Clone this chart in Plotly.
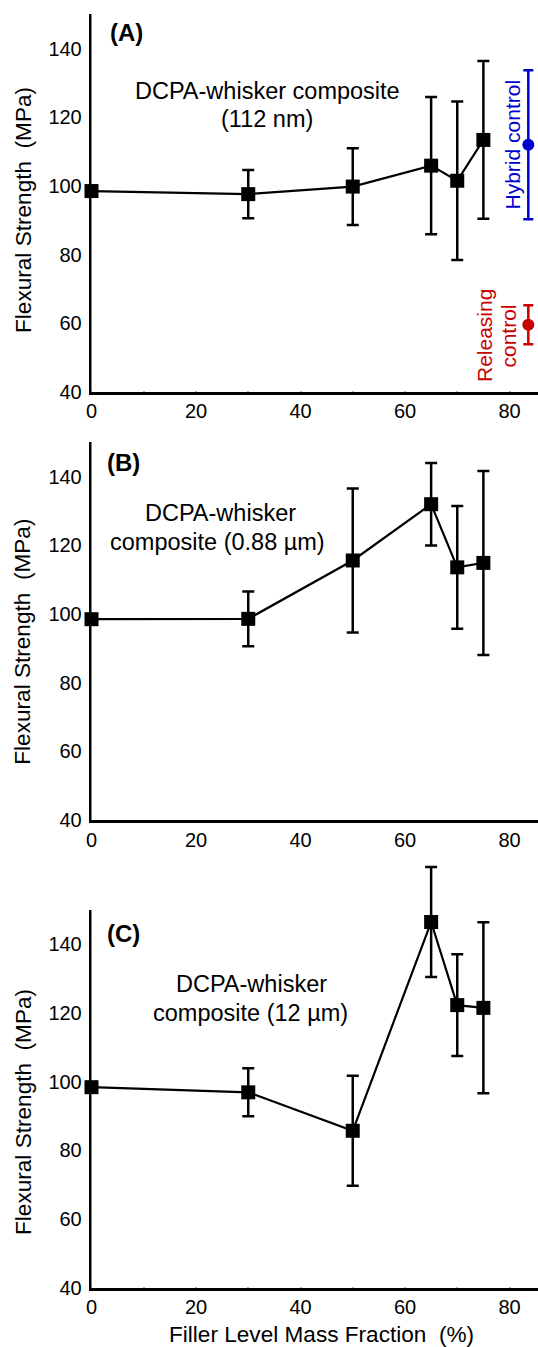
import plotly.graph_objects as go

# ---------------- data ----------------
filler = [0, 30, 50, 65, 70, 75]

strength_a = [98.5, 97.6, 99.8, 105.9, 101.5, 113.4]
err_a = [0, 7.0, 11.2, 20.0, 23.1, 23.0]

strength_b = [98.5, 98.6, 115.6, 132.0, 113.6, 114.9]
err_b = [0, 8.0, 21.0, 12.0, 17.9, 26.8]

strength_c = [98.4, 96.9, 85.7, 146.5, 122.3, 121.5]
err_c = [0, 7.0, 16.0, 16.0, 14.8, 24.9]

control_x = [83.6]
hybrid_y = [112.0]
hybrid_err = [21.7]
releasing_y = [59.5]
releasing_err = [5.7]

y_ticks = [40, 60, 80, 100, 120, 140]
x_ticks = [0, 20, 40, 60, 80]

W, H = 538, 1347
FONT = "Liberation Sans, Arial, Helvetica, sans-serif"
BLUE = "#0000cc"
RED = "#c80000"


def px(x):
    return x / W


def py(y):
    return 1 - y / H


X0 = 91.5
XMAX = (W - X0) / 5.225
YMIN, YMAX = 40, 150

panels = [  # (top px, bottom px, extra clip room above in px)
    (14.4, 391.7, 10),
    (442.4, 820.0, 10),
    (910.0, 1287.7, 60),
]

fig = go.Figure()

layout = dict(
    width=W, height=H,
    margin=dict(l=0, r=0, t=0, b=0),
    paper_bgcolor="white", plot_bgcolor="white",
    font=dict(family=FONT, color="black"),
    showlegend=False,
)

common_tick = dict(ticks="inside", ticklen=5, tickwidth=2, tickcolor="black",
                   showgrid=False, zeroline=False, showline=True,
                   linecolor="black", linewidth=2.5,
                   tickfont=dict(size=20, color="black", family=FONT),
                   automargin=False)

series = [(strength_a, err_a), (strength_b, err_b), (strength_c, err_c)]
for i, ((top, bot, ext), (ys, es)) in enumerate(zip(panels, series)):
    n = "" if i == 0 else str(i + 1)
    xref, yref, yref_data = "x" + n, "y" + n, "y" + str(i + 4)

    layout["xaxis" + n] = dict(
        domain=[px(X0), 1], range=[0, XMAX], anchor=yref,
        tickmode="array", tickvals=x_ticks,
        minor=dict(dtick=10, tick0=0, ticks="inside", ticklen=5, tickwidth=2,
                   tickcolor="black", showgrid=False),
        **common_tick)
    layout["yaxis" + n] = dict(
        domain=[py(bot), py(top)], range=[YMIN, YMAX], anchor=xref,
        tickmode="array", tickvals=y_ticks, ticklabelstandoff=3,
        minor=dict(dtick=10, tick0=40, ticks="inside", ticklen=5, tickwidth=2,
                   tickcolor="black", showgrid=False),
        **common_tick)
    # invisible data axis with identical scale but a taller clip region
    scale = (bot - top) / (YMAX - YMIN)
    layout["yaxis" + str(i + 4)] = dict(
        domain=[py(bot), py(top - ext)], range=[YMIN, YMAX + ext / scale],
        anchor=xref, visible=False, showgrid=False, zeroline=False)

    # empty trace so the visible axes form a drawn subplot
    fig.add_trace(go.Scatter(x=[], y=[], xaxis=xref, yaxis=yref,
                             showlegend=False, hoverinfo="skip"))

    fig.add_trace(go.Scatter(
        x=filler, y=ys, mode="lines+markers",
        xaxis=xref, yaxis=yref_data,
        line=dict(color="black", width=2.2),
        marker=dict(symbol="square", size=14, color="black"),
        error_y=dict(type="data", array=es, visible=True, color="black",
                     thickness=2.5, width=6),
        cliponaxis=False, showlegend=False,
    ))

fig.add_trace(go.Scatter(
    x=control_x, y=hybrid_y, mode="markers", xaxis="x", yaxis="y4",
    marker=dict(symbol="circle", size=12, color=BLUE),
    error_y=dict(type="data", array=hybrid_err, color=BLUE, thickness=2.5, width=5),
    cliponaxis=False, showlegend=False,
))
fig.add_trace(go.Scatter(
    x=control_x, y=releasing_y, mode="markers", xaxis="x", yaxis="y4",
    marker=dict(symbol="circle", size=12, color=RED),
    error_y=dict(type="data", array=releasing_err, color=RED, thickness=2.5, width=5),
    cliponaxis=False, showlegend=False,
))

fig.update_layout(**layout)

annotations = []


def ann(text, x, y, size=23.5, color="black", angle=0, bold=False):
    if bold:
        text = "<b>" + text + "</b>"
    annotations.append(dict(
        text=text, x=px(x), y=py(y), xref="paper", yref="paper",
        xanchor="center", yanchor="middle", showarrow=False,
        textangle=angle, font=dict(size=size, color=color, family=FONT)))


# panel labels
ann("(A)", 126, 32.3, size=24, bold=True)
ann("(B)", 123.6, 462.7, size=24, bold=True)
ann("(C)", 123.2, 933.3, size=24, bold=True)

# descriptions
ann("DCPA-whisker composite", 267.8, 90.7)
ann("(112 nm)", 267, 119)
ann("DCPA-whisker", 220.4, 513.3)
ann("composite (0.88 µm)", 218, 541.7)
ann("DCPA-whisker", 251.2, 984)
ann("composite (12 µm)", 250.2, 1012.7)

# controls
ann("Hybrid control", 512, 144.5, size=21, color=BLUE, angle=-90)
ann("Releasing", 484, 336, size=21, color=RED, angle=-90)
ann("control", 507.5, 336, size=21, color=RED, angle=-90)

# y titles
ann("Flexural Strength  (MPa)", 23, 210, size=22.6, angle=-90)
ann("Flexural Strength  (MPa)", 23, 641.7, size=22.6, angle=-90)
ann("Flexural Strength  (MPa)", 23, 1112, size=22.6, angle=-90)

# x title
ann("Filler Level Mass Fraction  (%)", 321, 1334, size=22.6)

fig.update_layout(annotations=annotations)

fig.write_html("out.html", config={"displayModeBar": False},
               post_script="document.body.style.margin='0';")
